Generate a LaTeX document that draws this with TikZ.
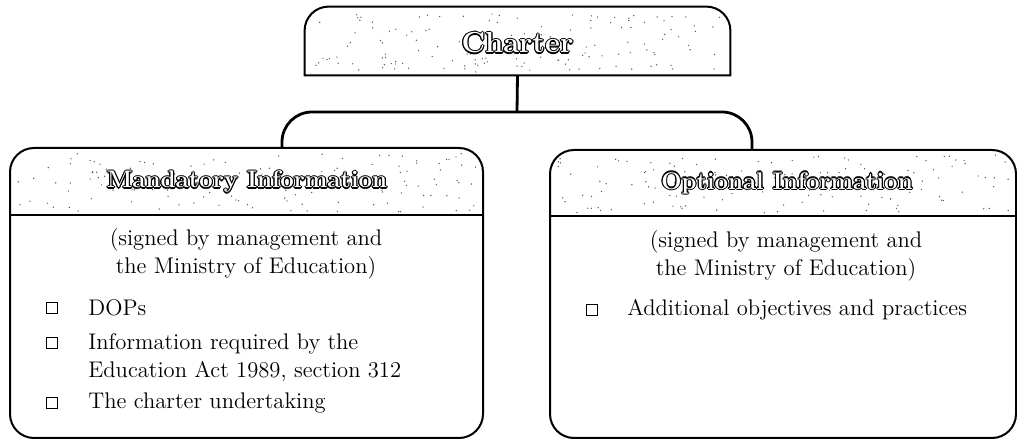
\documentclass[tikz,border=0pt]{standalone}
\usepackage{xcolor}
\usetikzlibrary{positioning}

\newcommand\hollow[1]{\leavevmode
  \rlap{\hspace{0.6pt}#1}\rlap{\hspace{-0.6pt}#1}%
  \rlap{\raisebox{0.6pt}{#1}}\rlap{\raisebox{-0.6pt}{#1}}%
  \rlap{\hspace{0.45pt}\raisebox{0.45pt}{#1}}\rlap{\hspace{-0.45pt}\raisebox{0.45pt}{#1}}%
  \rlap{\hspace{0.45pt}\raisebox{-0.45pt}{#1}}\rlap{\hspace{-0.45pt}\raisebox{-0.45pt}{#1}}%
  \textcolor{white}{#1}}
\newcommand\speckles[4]{%
  \foreach \k in {1,...,140}{\fill[black!70] ({#1+rnd*(#3-#1)},{#2+rnd*(#4-#2)}) circle (0.35pt);}}

\tikzset{
  panel/.style={draw, line width=1pt, rounded corners=12pt, inner sep=0pt},
  heading/.style={font=\fontsize{12}{14}\selectfont\bfseries},
  signed/.style={align=center, inner sep=0pt},
  item/.style={anchor=west, align=left, inner sep=0pt},
  tick/.style={draw, line width=0.7pt, minimum size=5.5pt, inner sep=0pt},
  link/.style={draw, line width=1.4pt}
}

\begin{document}
\begin{tikzpicture}[x=0.5pt, y=-0.5pt, font=\fontsize{11.3}{14}\selectfont]
\useasboundingbox (0,0) rectangle (1017,442);
\pgfmathsetseed{17}

\node[inner sep=0pt, minimum width=212.5pt, minimum height=34pt] (charter) at (517.5,41) {};
\speckles{312}{12}{724}{72}
\path[draw,line width=1pt] (charter.south west) -- ([yshift=-12pt]charter.north west) arc (180:90:12pt)
  -- ([xshift=-12pt]charter.north east) arc (90:0:12pt) -- (charter.south east) -- cycle;
\node[font=\fontsize{14.5}{16}\selectfont\bfseries] (chartertitle) at (517.5,43) {\hollow{Charter}};

\node[panel, minimum width=236.5pt, minimum height=145pt] (mand) at (246.5,293) {};
\speckles{18}{153}{476}{212}
\path[draw,line width=0.8pt] (mand.west |- 0,215) -- (mand.east |- 0,215);
\node[heading] (mandtitle) at (247,182) {\hollow{Mandatory Information}};
\node[signed] (mandsigned) at (246,254) {(signed by management and\\the Ministry of Education)};
\node[tick] (mandbox1) at (52,308) {};
\node[tick] (mandbox2) at (52,343) {};
\node[tick] (mandbox3) at (52,403) {};
\node[item] (dops) at (88,308) {DOPs};
\node[item, anchor=north west] (act) at (88,333) {Information required by the\\Education Act 1989, section 312};
\node[item] (undertaking) at (88,403) {The charter undertaking};

\node[panel, minimum width=233pt, minimum height=144pt] (opt) at (783,294) {};
\speckles{558}{155}{1009}{213}
\path[draw,line width=0.8pt] (opt.west |- 0,216) -- (opt.east |- 0,216);
\node[heading] (opttitle) at (787,183) {\hollow{Optional Information}};
\node[signed] (optsigned) at (786,256) {(signed by management and\\the Ministry of Education)};
\node[tick] (optbox1) at (592,310) {};
\node[item] (additional) at (627,310) {Additional objectives and practices};

\coordinate (hub) at (517,112);
\coordinate (mandtop) at (282,148);
\coordinate (opttop) at (752,150);
\path[link] (charter.south) -- (hub);
\path[link, rounded corners=15pt] (mandtop) |- (hub) -| (opttop);
\end{tikzpicture}
\end{document}
